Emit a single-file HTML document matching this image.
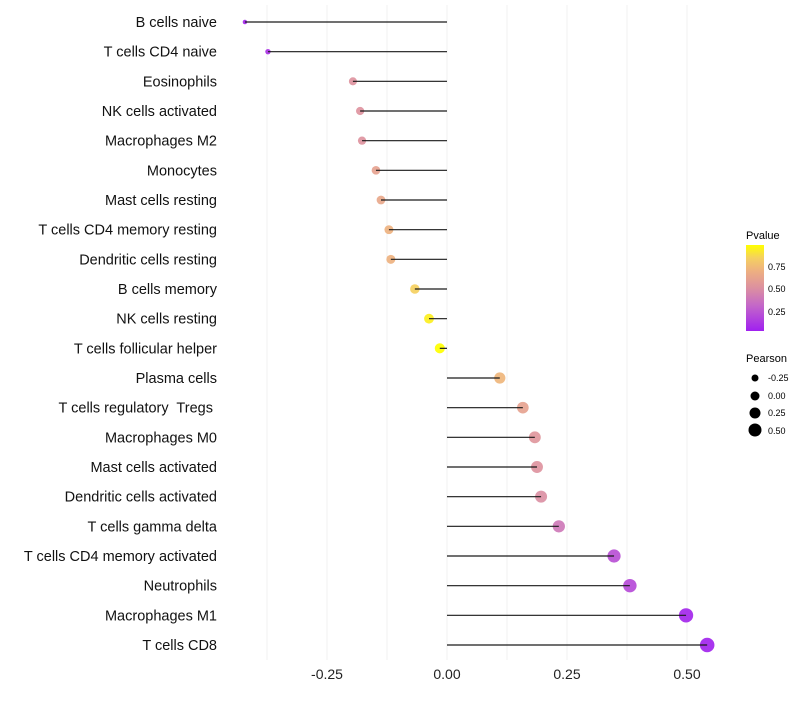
<!DOCTYPE html>
<html><head><meta charset="utf-8"><style>
body{margin:0;background:#fff;font-family:"Liberation Sans",sans-serif}
text{white-space:pre}
</style></head><body>
<svg id="chart" width="800" height="700" xmlns="http://www.w3.org/2000/svg" font-family="Liberation Sans, sans-serif">
<defs><linearGradient id="pg" x1="0" y1="1" x2="0" y2="0">
<stop offset="0" stop-color="#a020f0"/><stop offset="0.3" stop-color="#c468c8"/><stop offset="0.5" stop-color="#dc90a0"/><stop offset="0.7" stop-color="#eeb080"/><stop offset="0.85" stop-color="#f5d060"/><stop offset="1" stop-color="#ffff00"/>
</linearGradient></defs>
<g id="grid"></g><g id="dots"></g><g id="stems"></g><g id="labels"></g>
<g>
<text x="746" y="239" font-size="11">Pvalue</text>
<rect x="746" y="245" width="18" height="86" fill="url(#pg)"/>
<text x="768" y="270" font-size="9">0.75</text>
<text x="768" y="292" font-size="9">0.50</text>
<text x="768" y="315" font-size="9">0.25</text>
</g>
<g>
<text x="746" y="362" font-size="11">Pearson</text>
<circle cx="755" cy="378" r="3.5"/><text x="768" y="381" font-size="9">-0.25</text>
<circle cx="755" cy="396" r="4.5"/><text x="768" y="399" font-size="9">0.00</text>
<circle cx="755" cy="413" r="5.5"/><text x="768" y="416" font-size="9">0.25</text>
<circle cx="755" cy="430" r="6.5"/><text x="768" y="434" font-size="9">0.50</text>
</g>
</svg>
<script>
const categories=["B cells naive","T cells CD4 naive","Eosinophils","NK cells activated","Macrophages M2","Monocytes","Mast cells resting","T cells CD4 memory resting","Dendritic cells resting","B cells memory","NK cells resting","T cells follicular helper","Plasma cells","T cells regulatory  Tregs ","Macrophages M0","Mast cells activated","Dendritic cells activated","T cells gamma delta","T cells CD4 memory activated","Neutrophils","Macrophages M1","T cells CD8"];
const pearson=[-0.421,-0.373,-0.196,-0.181,-0.177,-0.148,-0.1375,-0.121,-0.117,-0.067,-0.0375,-0.015,0.110,0.158,0.183,0.1875,0.196,0.233,0.348,0.381,0.498,0.542];
const pvalues=[0.03,0.08,0.5,0.5,0.5,0.6,0.63,0.7,0.7,0.85,0.95,1.0,0.72,0.6,0.52,0.5,0.48,0.38,0.2,0.18,0.03,0.02];
const xTicks=[-0.25,0,0.25,0.5];
const xTickLabels=["-0.25","0.00","0.25","0.50"];
const gridVals=[-0.375,-0.25,-0.125,0,0.125,0.25,0.375,0.5];
const NS="http://www.w3.org/2000/svg";
const x=v=>447+v*480;
const y=i=>22+i*(623/21);
const r=v=>Math.sqrt(Math.max(4,26+50*v));
const stops=[[0,[160,32,240]],[0.3,[196,104,200]],[0.5,[222,148,160]],[0.7,[238,178,128]],[0.85,[245,208,96]],[1,[255,255,0]]];
function col(p){for(let k=1;k<stops.length;k++){if(p<=stops[k][0]){const a=stops[k-1],b=stops[k],t=(p-a[0])/(b[0]-a[0]);return"rgb("+a[1].map((c,j)=>Math.round(c+(b[1][j]-c)*t)).join(",")+")";}}return"rgb(255,255,0)";}
function mk(t,a,parent){const e=document.createElementNS(NS,t);for(const k in a)e.setAttribute(k,a[k]);parent.appendChild(e);return e;}
const G=document.getElementById("grid"),D=document.getElementById("dots"),S=document.getElementById("stems"),L=document.getElementById("labels");
gridVals.forEach(v=>{const e=mk("line",{x1:x(v),x2:x(v),y1:5,y2:660,stroke:"#f0f0f0","stroke-width":1},G);

});
xTicks.forEach((v,i)=>{const t=mk("text",{x:x(v),y:679,"font-size":14,"text-anchor":"middle",fill:"#222"},L);t.textContent=xTickLabels[i];

});
categories.forEach((c,i)=>{
const t=mk("text",{x:217,y:y(i)+5,"font-size":14.5,"text-anchor":"end",fill:"#111"},L);t.textContent=c;


const d=mk("circle",{cx:x(pearson[i]),cy:y(i),r:r(pearson[i]),fill:col(pvalues[i]),"fill-opacity":0.92},D);


const s=mk("line",{x1:x(0),x2:x(pearson[i]),y1:y(i),y2:y(i),stroke:"#1a1a1a","stroke-width":1.2},S);


});
</script>
</body></html>
